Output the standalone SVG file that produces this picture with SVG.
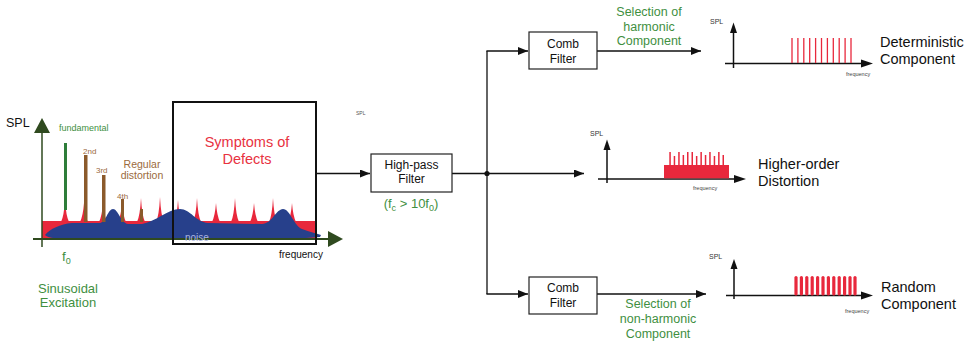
<svg xmlns="http://www.w3.org/2000/svg" width="971" height="344" viewBox="0 0 971 344">
<style>
text{font-family:"Liberation Sans",Arial,sans-serif}
.blk{fill:#111}
.grn{fill:#3f8f3f}
.box{fill:#fff;stroke:#222;stroke-width:1.2}
.flow{fill:none;stroke:#111;stroke-width:1.3}
.ax{stroke:#111;stroke-width:1.5;fill:none}
.tiny{font-size:5.5px;fill:#444}
.big{font-size:14.5px;fill:#111}
.lbl{font-size:12px;fill:#111;text-anchor:middle}
.gl{font-size:12.5px;fill:#3f8f3f;text-anchor:middle}
.red{fill:#e8283c}
.rl{stroke:#e8283c;stroke-width:1.3}
.rb{stroke:#e8283c;stroke-width:3.2;stroke-linecap:round}
.brown{fill:#8b5a2b}
</style>
<defs>
<marker id="ah" markerUnits="userSpaceOnUse" markerWidth="10" markerHeight="8" refX="10" refY="4" orient="auto"><path d="M0,0 L10,4 L0,8 Z" fill="#111"/></marker>
</defs>

<g id="input-spectrum">
<rect x="42" y="221" width="274" height="18" class="red"/>
<g class="red">
<path d="M61,222 Q64,216 65,200 Q66,216 69,222 Z"/>
<path d="M80,222 Q83,216 84,203 Q85,216 88,222 Z"/>
<path d="M99,222 Q102,216 103,203 Q104,216 107,222 Z"/>
<path d="M118,222 Q121,216 122,203 Q123,216 126,222 Z"/>
<path d="M137,222 Q140,216 141,198 Q142,216 145,222 Z"/>
<path d="M156,222 Q159,216 160,197 Q161,216 164,222 Z"/>
<path d="M174,222 Q177,216 178,200 Q179,216 182,222 Z"/>
<path d="M193,222 Q196,216 197,198 Q198,216 201,222 Z"/>
<path d="M212,222 Q215,216 216,203 Q217,216 220,222 Z"/>
<path d="M231,222 Q234,216 235,198 Q236,216 239,222 Z"/>
<path d="M250,222 Q253,216 254,203 Q255,216 258,222 Z"/>
<path d="M269,222 Q272,216 273,198 Q274,216 277,222 Z"/>
<path d="M288,222 Q291,216 292,203 Q293,216 296,222 Z"/>
</g>
<path d="M45,235 C50,229 60,224 72,223 L100,223 C106,222 108,209 113,209 C118,209 121,223 128,224 L142,224 C155,222 168,209 180,209 C190,209 196,222 208,223 L262,224 C272,224 276,209 283,209 C290,209 294,226 302,229 C310,232 316,233 321,235 L320,237 C300,238 285,240 270,240 L75,240 C60,239 47,238 45,235 Z" fill="#27408b"/>
<rect x="64" y="143" width="3" height="67" fill="#2e7d3a"/>
<rect x="84" y="155" width="3.5" height="67" class="brown"/>
<rect x="102" y="175" width="3.5" height="47" class="brown"/>
<rect x="121" y="199" width="3" height="23" class="brown"/>
<rect x="140" y="209" width="3" height="13" class="brown"/>
<line x1="42" y1="132" x2="42" y2="247" stroke="#2f4a1f" stroke-width="1.5"/>
<path d="M34,133 L42,118 L50,133 Z" fill="#2f4a1f"/>
<line x1="33" y1="239" x2="330" y2="239" stroke="#2f4a1f" stroke-width="2"/>
<path d="M328,231 L343,239 L328,247 Z" fill="#2f4a1f"/>
<text x="6" y="127" style="font-size:12.5px" class="blk">SPL</text>
<text x="59" y="131" style="font-size:9px" class="grn">fundamental</text>
<text x="83" y="154" style="font-size:8px;fill:#9b6a3c">2nd</text>
<text x="96" y="173" style="font-size:8px;fill:#9b6a3c">3rd</text>
<text x="117" y="199" style="font-size:8px;fill:#9b6a3c">4th</text>
<text x="142" y="168" style="font-size:10.5px;fill:#9b6a3c;text-anchor:middle">Regular</text>
<text x="142" y="179" style="font-size:10.5px;fill:#9b6a3c;text-anchor:middle">distortion</text>
<text x="185" y="241" style="font-size:10px;fill:#aab4de">noise</text>
<text x="279" y="258" style="font-size:10px" class="blk">frequency</text>
<text x="62" y="261" style="font-size:13.5px" class="grn">f<tspan font-size="9" dy="3">0</tspan></text>
<text x="68" y="293" style="font-size:13px;text-anchor:middle" class="grn">Sinusoidal</text>
<text x="68" y="307" style="font-size:13px;text-anchor:middle" class="grn">Excitation</text>
</g>

<g id="defects-box">
<rect x="173" y="102" width="143" height="142" fill="none" stroke="#111" stroke-width="2"/>
<text x="247" y="147" style="font-size:14.5px;fill:#e8323f;text-anchor:middle">Symptoms of</text>
<text x="247" y="164" style="font-size:14.5px;fill:#e8323f;text-anchor:middle">Defects</text>
</g>

<text x="356" y="115" style="font-size:5px;fill:#555">SPL</text>

<g id="connectors">
<line x1="317" y1="173.5" x2="370" y2="173.5" class="flow" marker-end="url(#ah)"/>
<line x1="452" y1="173.5" x2="584" y2="173.5" class="flow" marker-end="url(#ah)"/>
<line x1="487" y1="51" x2="487" y2="294" class="flow"/>
<line x1="486.4" y1="51" x2="528" y2="51" class="flow" marker-end="url(#ah)"/>
<line x1="486.4" y1="294" x2="528" y2="294" class="flow" marker-end="url(#ah)"/>
<line x1="597" y1="51" x2="701" y2="51" class="flow" marker-end="url(#ah)"/>
<line x1="597" y1="294" x2="706" y2="294" class="flow" marker-end="url(#ah)"/>
<circle cx="487" cy="173.5" r="2.6" fill="#111"/>
</g>

<g id="highpass-filter">
<rect x="371" y="154" width="81" height="38" class="box"/>
<text x="411.5" y="169" class="lbl">High-pass</text>
<text x="411.5" y="183" class="lbl">Filter</text>
<text x="411" y="208" style="font-size:13px;text-anchor:middle" class="grn">(f<tspan font-size="9" dy="3">c</tspan><tspan dy="-3"> &gt; 10f</tspan><tspan font-size="9" dy="3">0</tspan><tspan dy="-3">)</tspan></text>
</g>

<g id="comb-filter-top">
<rect x="529" y="32" width="68" height="37" class="box"/>
<text x="563" y="48" class="lbl">Comb</text>
<text x="563" y="63" class="lbl">Filter</text>
<text x="649" y="16" class="gl">Selection of</text>
<text x="649" y="30.5" class="gl">harmonic</text>
<text x="649" y="45" class="gl">Component</text>
</g>

<g id="comb-filter-bottom">
<rect x="529" y="277" width="68" height="37" class="box"/>
<text x="563" y="292" class="lbl">Comb</text>
<text x="563" y="307" class="lbl">Filter</text>
<text x="658" y="308" class="gl">Selection of</text>
<text x="658" y="323" class="gl">non-harmonic</text>
<text x="658" y="338" class="gl">Component</text>
</g>

<g id="deterministic-spectrum">
<line x1="733.5" y1="30" x2="733.5" y2="68" class="ax"/>
<path d="M730,33 L733.5,22.5 L737,33 Z" fill="#111"/>
<line x1="725" y1="63.5" x2="862" y2="63.5" class="ax"/>
<path d="M861,59.5 L873,63.5 L861,67.5 Z" fill="#111"/>
<g class="rl">
<line x1="792" y1="38" x2="792" y2="63"/><line x1="797.9" y1="38" x2="797.9" y2="63"/><line x1="803.8" y1="38" x2="803.8" y2="63"/><line x1="809.7" y1="38" x2="809.7" y2="63"/><line x1="815.6" y1="38" x2="815.6" y2="63"/><line x1="821.5" y1="38" x2="821.5" y2="63"/><line x1="827.4" y1="38" x2="827.4" y2="63"/><line x1="833.3" y1="38" x2="833.3" y2="63"/><line x1="839.2" y1="38" x2="839.2" y2="63"/><line x1="845.1" y1="38" x2="845.1" y2="63"/><line x1="851" y1="38" x2="851" y2="63"/>
</g>
<text x="710" y="24" style="font-size:7px;fill:#333">SPL</text>
<text x="846" y="76" class="tiny">frequency</text>
<text x="880" y="47" class="big">Deterministic</text>
<text x="880" y="64" class="big">Component</text>
</g>

<g id="higher-order-spectrum">
<line x1="607" y1="148" x2="607" y2="183" class="ax"/>
<path d="M603.5,150 L607,139.5 L610.5,150 Z" fill="#111"/>
<line x1="598" y1="179" x2="735" y2="179" class="ax"/>
<path d="M734,175 L746,179 L734,183 Z" fill="#111"/>
<rect x="664" y="165" width="65" height="13.3" class="red"/>
<g class="red">
<rect x="669.3" y="152" width="1.5" height="13"/><rect x="673.7" y="156" width="1.5" height="9"/><rect x="678.2" y="152" width="1.5" height="13"/><rect x="682.6" y="155" width="1.5" height="10"/><rect x="687" y="152" width="1.5" height="13"/><rect x="691.5" y="152" width="1.5" height="13"/><rect x="695.9" y="156" width="1.5" height="9"/><rect x="700.4" y="152" width="1.5" height="13"/><rect x="704.8" y="155" width="1.5" height="10"/><rect x="709.2" y="152" width="1.5" height="13"/><rect x="713.7" y="156" width="1.5" height="9"/><rect x="718.1" y="152" width="1.5" height="13"/><rect x="722.5" y="155" width="1.5" height="10"/>
</g>
<text x="590" y="136" style="font-size:7px;fill:#333">SPL</text>
<text x="693" y="190" class="tiny">frequency</text>
<text x="758" y="169" class="big">Higher-order</text>
<text x="758" y="186" class="big">Distortion</text>
</g>

<g id="random-spectrum">
<line x1="734" y1="266" x2="734" y2="299" class="ax"/>
<path d="M730.5,269 L734,259 L737.5,269 Z" fill="#111"/>
<line x1="726" y1="295.5" x2="862" y2="295.5" class="ax"/>
<path d="M861,291.5 L873,295.5 L861,299.5 Z" fill="#111"/>
<g class="rb">
<line x1="796" y1="277.5" x2="796" y2="294"/><line x1="801.4" y1="277.5" x2="801.4" y2="294"/><line x1="806.8" y1="277.5" x2="806.8" y2="294"/><line x1="812.2" y1="277.5" x2="812.2" y2="294"/><line x1="817.6" y1="277.5" x2="817.6" y2="294"/><line x1="823" y1="277.5" x2="823" y2="294"/><line x1="828.4" y1="277.5" x2="828.4" y2="294"/><line x1="833.8" y1="277.5" x2="833.8" y2="294"/><line x1="839.2" y1="277.5" x2="839.2" y2="294"/><line x1="844.6" y1="277.5" x2="844.6" y2="294"/><line x1="850" y1="277.5" x2="850" y2="294"/><line x1="855" y1="277.5" x2="855" y2="294"/>
</g>
<text x="709" y="259" style="font-size:7px;fill:#333">SPL</text>
<text x="845" y="313" class="tiny">frequency</text>
<text x="881" y="292" class="big">Random</text>
<text x="881" y="309" class="big">Component</text>
</g>
</svg>
